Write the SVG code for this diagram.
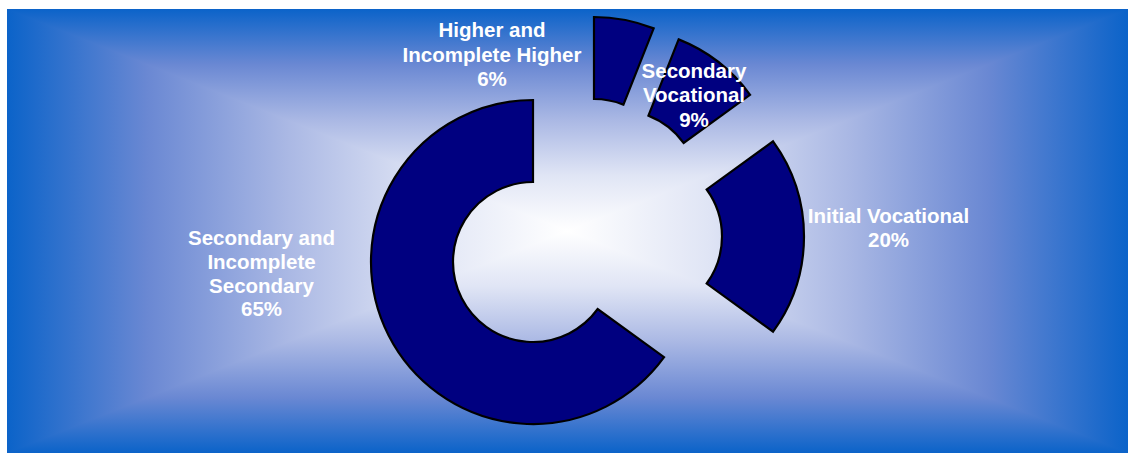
<svg xmlns="http://www.w3.org/2000/svg" width="1128" height="453" viewBox="0 0 1128 453">
  <defs>
    <linearGradient id="gh" gradientUnits="userSpaceOnUse" x1="7" y1="0" x2="567.5" y2="0" spreadMethod="reflect">
      <stop offset="0" stop-color="#0b63c9"/>
      <stop offset="0.25" stop-color="#6a88d3"/>
      <stop offset="0.5" stop-color="#aab8e4"/>
      <stop offset="0.75" stop-color="#e0e5f5"/>
      <stop offset="1" stop-color="#ffffff"/>
    </linearGradient>
    <linearGradient id="gv" gradientUnits="userSpaceOnUse" x1="0" y1="9" x2="0" y2="231" spreadMethod="reflect">
      <stop offset="0" stop-color="#0b63c9"/>
      <stop offset="0.25" stop-color="#6a88d3"/>
      <stop offset="0.5" stop-color="#aab8e4"/>
      <stop offset="0.75" stop-color="#e0e5f5"/>
      <stop offset="1" stop-color="#ffffff"/>
    </linearGradient>
  </defs>
  <style>
    .slice { fill: #000080; stroke: #000000; stroke-width: 2.2; stroke-linejoin: miter; }
    .lbl { font-family: "Liberation Sans", Arial, sans-serif; font-weight: bold; font-size: 20.5px; fill: #ffffff; text-anchor: middle; }
  </style>
  <g id="background">
    <rect x="7" y="9" width="1121" height="444" fill="url(#gh)"/>
    <polygon points="7,9 1128,9 567.5,231" fill="url(#gv)"/>
    <polygon points="7,453 1128,453 567.5,231" fill="url(#gv)"/>
  </g>
  <g id="slice-secondary-incomplete">
    <path class="slice" d="M664.06,357.22 A162,162 0 1 1 533,100 L533,182 A80,80 0 1 0 597.72,309.02 Z"/>
  </g>
  <g id="slice-higher">
    <path class="slice" d="M594,17 A162,162 0 0 1 653.64,28.38 L623.45,104.62 A80,80 0 0 0 594,99 Z"/>
  </g>
  <g id="slice-secondary-vocational">
    <path class="slice" d="M678.64,39.38 A162,162 0 0 1 750.06,94.78 L683.72,142.98 A80,80 0 0 0 648.45,115.62 Z"/>
  </g>
  <g id="slice-initial-vocational">
    <path class="slice" d="M773.06,141.28 A162,162 0 0 1 773.06,331.72 L706.72,283.52 A80,80 0 0 0 706.72,189.48 Z"/>
  </g>
  <g id="labels">
    <text class="lbl" x="492" y="37">Higher and</text>
    <text class="lbl" x="492" y="61.5">Incomplete Higher</text>
    <text class="lbl" x="492" y="86">6%</text>
    <text class="lbl" x="694" y="78">Secondary</text>
    <text class="lbl" x="694" y="102">Vocational</text>
    <text class="lbl" x="694" y="127">9%</text>
    <text class="lbl" x="888.5" y="222.5">Initial Vocational</text>
    <text class="lbl" x="888.5" y="246.5">20%</text>
    <text class="lbl" x="261.5" y="245">Secondary and</text>
    <text class="lbl" x="261.5" y="268.5">Incomplete</text>
    <text class="lbl" x="261.5" y="292.5">Secondary</text>
    <text class="lbl" x="261.5" y="316">65%</text>
  </g>
</svg>
